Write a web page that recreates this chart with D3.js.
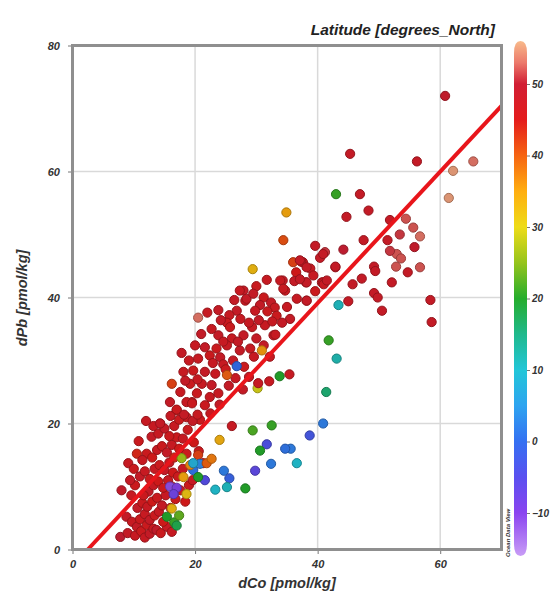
<!DOCTYPE html>
<html>
<head>
<meta charset="utf-8">
<script src="https://cdn.jsdelivr.net/npm/d3@7"></script>
<style>
  body { margin: 0; background: #fff; }
  svg { display: block; }
  text { font-family: "Liberation Sans", Arial, sans-serif; font-weight: bold; font-style: italic; fill: #333; }
</style>
</head>
<body>
<svg id="chart" width="555" height="601"></svg>
<script>
// Tick labels
const xTicks = [0, 20, 40, 60];
const yTicks = [0, 20, 40, 60, 80];
const latTicks = [-10, 0, 10, 20, 30, 40, 50];

// Colour stops of the latitude bar
const latStops = [-16, -10, -5, 0, 5, 10, 15, 20, 25, 30, 35, 40, 45, 50, 53, 56];
const latColors = ["#c89cf6", "#8a44f0", "#5a50f0", "#3470f2", "#2ea4f0", "#22c6d8", "#1fb98c", "#25ad2c",
                   "#96c41c", "#eedc18", "#ffae10", "#f66412", "#e41c1c", "#d11f34", "#ec7a6c", "#f8ba8a"];

// Regression line [dCo, dPb]
const fitLine = [[2.5, 0], [70, 70.4]];

// Samples: [dCo, dPb, latitude]
const lowCluster = [
  [7.8,2.0,50],[8.0,9.4,49],[8.8,5.2,48],[9.0,2.6,48],[9.7,4.4,47],[10.2,2.2,47],[10.5,3.6,48],[11.2,2.9,46],
  [11.8,1.9,47],[12.1,3.9,46],[12.6,2.5,48],[13.2,3.3,47],[13.7,3.1,49],[14.4,2.6,46],[15.4,3.6,47],[14.8,4.4,45],
  [11.0,4.8,46],[11.8,5.6,47],[12.6,4.7,48],[13.4,5.4,46],[14.1,6.0,47],[10.6,6.6,48],[11.4,7.4,46],[12.2,6.8,47],
  [13.0,7.6,45],[13.8,8.2,46],[14.6,7.0,48],[15.2,8.6,47],[12.4,9.2,48],[11.6,8.6,46],[13.2,10.2,47],[14.0,10.8,45],
  [14.8,9.8,46],[15.6,11.0,47],[11.0,11.6,48],[11.8,12.4,47],[12.6,11.2,46],[13.4,12.8,47],[14.2,13.4,46],[15.0,12.6,48],
  [15.8,13.8,47],[16.4,12.2,45],[10.5,15.2,44],[12.1,15.2,46],[12.9,17.9,48],[9.1,13.7,47],[10.0,12.8,46],[11.4,14.2,47],
  [13.0,14.6,45],[13.8,15.8,47],[14.6,16.4,46],[15.4,15.4,48],[16.2,16.6,47],[17.0,17.8,46],[14.0,18.4,47],[15.0,19.2,48],
  [15.8,18.0,46],[16.6,19.6,47],[17.4,20.6,46],[13.2,19.6,47],[14.3,20.0,48],[16.0,21.2,47],[17.0,22.2,46],[18.2,21.4,48],
  [18.6,23.4,47],[19.5,23.2,46],[16.6,14.6,44],[17.4,16.0,45],[18.0,17.6,47],[18.8,19.0,46],[19.6,20.4,48],[20.4,21.4,47],
  [21.3,13.7,47],[20.6,15.6,46],[19.8,17.0,45],[16.0,6.6,47],[16.8,8.0,46],[17.6,9.4,47],[16.2,10.0,48],[17.2,11.6,46],
  [18.0,12.8,47],[18.4,7.6,45],[19.0,10.2,46],[19.6,11.0,47],[9.6,8.6,47],[10.2,10.2,46],[9.4,11.0,48],[20.5,15.0,42],
  [16.2,2.8,47],[18.6,15.2,46],[12.0,20.4,47],[10.8,17.2,46]
];

const upperBand = [
  [40.9,46.9,48],[37.3,45.7,47],[36.5,44.0,45],[38.2,42.4,48],[40.9,42.4,47],[31.7,42.8,47],[34.3,42.7,48],[34.7,41.1,47],
  [27.9,41.1,48],[28.2,39.5,47],[31.2,40.0,46],[32.4,39.2,48],[33.0,38.4,47],[31.8,37.8,46],[30.6,38.8,48],[35.0,38.5,47],
  [35.5,36.6,48],[33.3,37.1,46],[29.8,37.9,47],[26.8,37.9,48],[25.6,37.2,47],[25.2,36.0,46],[27.4,36.6,47],[23.8,38.0,48],
  [20.5,36.8,53],[29.3,35.3,47],[27.9,34.0,48],[25.7,35.3,46],[22.7,35.0,47],[23.8,34.0,48],[26.0,33.5,47],[32.8,34.0,48],
  [20.0,32.4,47],[21.6,32.1,48],[23.5,31.9,46],[25.2,32.4,47],[27.3,31.6,48],[29.0,31.9,47],[17.8,31.2,48],[20.5,30.3,47],
  [22.4,30.8,46],[24.1,30.5,48],[18.1,28.2,47],[19.7,28.4,46],[21.6,28.2,48],[23.3,27.9,47],[19.2,26.3,46],[21.1,26.3,47],
  [22.7,26.1,48],[16.2,26.3,42],[17.6,25.0,47],[20.3,24.8,46],[22.4,24.2,47],[15.9,23.4,48],[19.5,23.4,47],[21.6,22.9,46],
  [17.0,22.1,47],[14.3,20.0,48],[18.6,21.0,47],[33.1,34.1,47],[24.6,29.4,47],[26.2,30.0,48],[28.0,29.0,46],[22.9,29.6,47],
  [25.5,26.0,48],[23.8,24.8,47],[20.8,20.6,46],[22.5,21.6,47],[24.0,23.0,48],[26.6,27.2,47],[27.8,25.4,48],[28.8,27.4,47],
  [30.0,33.5,48],[31.4,35.6,47],[34.2,36.0,48],[36.6,39.8,47],[38.2,39.5,48],[39.6,41.0,46],[36.2,42.6,48],[38.8,44.6,47],
  [30.0,41.8,46],[26.4,39.6,48],[27.3,41.1,47],[28.4,39.8,48],[33.9,42.7,47],[37.1,42.9,48],[39.3,43.5,47],[36.0,45.6,42],
  [38.2,44.8,48],[41.0,42.1,47],[41.5,42.7,48],[37.1,45.9,48],[34.4,41.4,47],[29.5,40.6,48],[32.6,36.2,47],[30.4,36.4,48],
  [24.6,33.0,47],[21.0,34.2,48],[19.0,30.0,47],[18.4,26.8,48],[20.4,27.0,47],[25.0,28.6,46],[29.6,30.6,47],[31.2,32.4,48],
  [30.9,31.6,36],[32.2,30.6,47],[27.0,33.0,48],[22.0,37.6,47],[24.2,36.4,48],[28.8,36.0,47]
];

const upperRight = [
  [60.8,72.0,49],[45.3,62.8,48],[56.2,61.6,48],[65.4,61.6,53],[62.1,60.1,55],[61.4,55.8,55],[46.9,56.4,48],[44.7,52.8,48],
  [48.3,53.8,48],[51.8,52.3,48],[54.4,52.5,52],[55.6,51.1,52],[56.7,49.7,53],[55.8,48.0,49],[52.9,46.9,52],[51.8,47.4,51],
  [51.4,49.1,48],[47.5,49.1,48],[39.6,48.2,48],[41.2,47.2,51],[40.4,46.3,48],[37.6,45.6,47],[42.9,44.8,48],[49.2,44.9,48],
  [49.4,44.2,48],[52.8,44.9,52],[54.7,44.0,48],[56.7,44.8,52],[47.2,43.0,48],[45.7,42.1,48],[52.1,42.4,48],[38.1,42.4,47],
  [49.2,40.7,48],[49.8,40.0,48],[45.0,39.4,48],[50.5,37.9,48],[58.4,39.6,48],[58.6,36.1,48],[53.6,46.2,52],[44.2,47.6,50],
  [42.9,44.9,48],[40.7,42.4,48],[38.2,39.5,47],[53.4,50.0,51]
];

const southern = [
  [43.0,56.4,21],[34.9,53.5,35],[34.4,49.1,41],[29.4,44.5,33],[43.4,38.8,11],[41.8,33.2,21],[43.1,30.3,12],[41.4,25.0,16],
  [40.9,20.0,2],[38.7,18.1,-3],[36.6,13.7,10],[35.6,16.0,2],[34.7,16.0,1],[32.5,19.7,21],[29.4,18.9,22],[31.7,16.7,-4],
  [30.6,15.7,20],[32.4,13.6,2],[29.8,12.5,-6],[28.2,9.7,20],[24.7,12.5,2],[25.6,11.3,-1],[25.2,9.9,11],[23.3,9.5,10],
  [24.0,17.4,34],[26.0,19.6,47],[26.8,29.1,0],[25.2,27.7,40],[30.2,25.6,29],[30.3,26.4,47],[32.1,26.7,47],[33.8,27.5,20],
  [35.4,27.8,47],
  [15.4,5.2,20],[16.6,4.3,21],[17.4,5.4,23],[17.0,3.8,18],[16.2,6.5,33],[15.9,10.0,-11],[17.0,9.8,-10],[16.5,8.8,-8],
  [18.6,8.8,32],[18.1,11.5,35],[19.7,12.6,1],[20.8,13.6,3],[21.6,11.0,-5],[20.5,11.5,20],[19.2,13.4,37],[21.9,13.7,40],
  [22.7,14.4,38],[17.8,14.5,26],[19.7,13.7,8]
];

const svg = d3.select('#chart');

const x = d3.scaleLinear().domain([0, 70]).range([72.5, 501.5]);
const y = d3.scaleLinear().domain([0, 80]).range([549.5, 45.5]);
const latColor = d3.scaleLinear().domain(latStops).range(latColors).clamp(true);

// Grid
svg.append('g')
  .selectAll('line')
  .data(xTicks.slice(1))
  .join('line')
  .attr('x1', d => x(d)).attr('x2', d => x(d))
  .attr('y1', y(80)).attr('y2', y(0))
  .attr('stroke', '#d9d9d9').attr('stroke-width', 1.5);

svg.append('g')
  .selectAll('line')
  .data(yTicks.slice(1, -1))
  .join('line')
  .attr('x1', x(0)).attr('x2', x(70))
  .attr('y1', d => y(d)).attr('y2', d => y(d))
  .attr('stroke', '#d9d9d9').attr('stroke-width', 1.5);

// Points
const allPoints = [...upperRight, ...upperBand, ...lowCluster, ...southern];
svg.append('g')
  .selectAll('circle')
  .data(allPoints)
  .join('circle')
  .attr('cx', d => x(d[0]))
  .attr('cy', d => y(d[1]))
  .attr('r', 4.6)
  .attr('fill', d => d3.color(latColor(d[2])).darker(0.3))
  .attr('stroke', d => d3.color(latColor(d[2])).darker(1.1))
  .attr('stroke-width', 1);

// Regression line
svg.append('path')
  .datum(fitLine)
  .attr('d', d3.line().x(d => x(d[0])).y(d => y(d[1])))
  .attr('stroke', '#e8151b')
  .attr('stroke-width', 4)
  .attr('fill', 'none');

// Frame
svg.append('rect')
  .attr('x', x(0)).attr('y', y(80))
  .attr('width', x(70) - x(0)).attr('height', y(0) - y(80))
  .attr('fill', 'none').attr('stroke', '#8f8f8f').attr('stroke-width', 3);

// Axes
const xAxis = svg.append('g')
  .attr('transform', `translate(0,${y(0) + 1.5})`)
  .call(d3.axisBottom(x).tickValues(xTicks).tickSize(3).tickPadding(6));
const yAxis = svg.append('g')
  .attr('transform', `translate(${x(0) - 1.5},0)`)
  .call(d3.axisLeft(y).tickValues(yTicks).tickSize(3).tickPadding(8));
[xAxis, yAxis].forEach(a => {
  a.select('.domain').remove();
  a.selectAll('line').attr('stroke', '#777');
  a.selectAll('text').attr('font-size', 11).attr('font-family', null).attr('fill', '#333');
});

// Axis titles
svg.append('text')
  .attr('x', 287).attr('y', 588)
  .attr('text-anchor', 'middle')
  .attr('font-size', 14.5)
  .text('dCo [pmol/kg]');

svg.append('text')
  .attr('transform', 'translate(27,298) rotate(-90)')
  .attr('text-anchor', 'middle')
  .attr('font-size', 14.5)
  .text('dPb [pmol/kg]');

svg.append('text')
  .attr('x', 495).attr('y', 35)
  .attr('text-anchor', 'end')
  .attr('font-size', 15.5)
  .style('fill', '#222')
  .text('Latitude [degrees_North]');

// Colour bar
const cy = d3.scaleLinear().domain([-10, 50]).range([513, 84]);
const barX = 514, barW = 13;
const grad = svg.append('defs').append('linearGradient')
  .attr('id', 'latgrad')
  .attr('x1', 0).attr('y1', 1).attr('x2', 0).attr('y2', 0);
grad.selectAll('stop')
  .data(latStops)
  .join('stop')
  .attr('offset', d => (d - latStops[0]) / (latStops[latStops.length - 1] - latStops[0]))
  .attr('stop-color', (d, i) => latColors[i]);

const topY = cy(56), botY = cy(-16);
const barPath = d3.path();
barPath.moveTo(barX, topY + 12);
barPath.quadraticCurveTo(barX, topY, barX + barW / 2, topY);
barPath.quadraticCurveTo(barX + barW, topY, barX + barW, topY + 12);
barPath.lineTo(barX + barW, botY - 12);
barPath.quadraticCurveTo(barX + barW, botY, barX + barW / 2, botY);
barPath.quadraticCurveTo(barX, botY, barX, botY - 12);
barPath.closePath();
svg.append('path')
  .attr('d', barPath.toString())
  .attr('fill', 'url(#latgrad)');

const cAxis = svg.append('g')
  .attr('transform', `translate(${barX + barW},0)`)
  .call(d3.axisRight(cy).tickValues(latTicks).tickSize(3).tickPadding(2));
cAxis.select('.domain').remove();
cAxis.selectAll('line').attr('stroke', '#777');
cAxis.selectAll('text').attr('font-size', 10).attr('font-family', null).attr('fill', '#333');

svg.append('text')
  .attr('transform', 'translate(510,557) rotate(-90)')
  .attr('font-size', 6)
  .attr('font-style', 'normal')
  .text('Ocean Data View');
</script>
</body>
</html>
